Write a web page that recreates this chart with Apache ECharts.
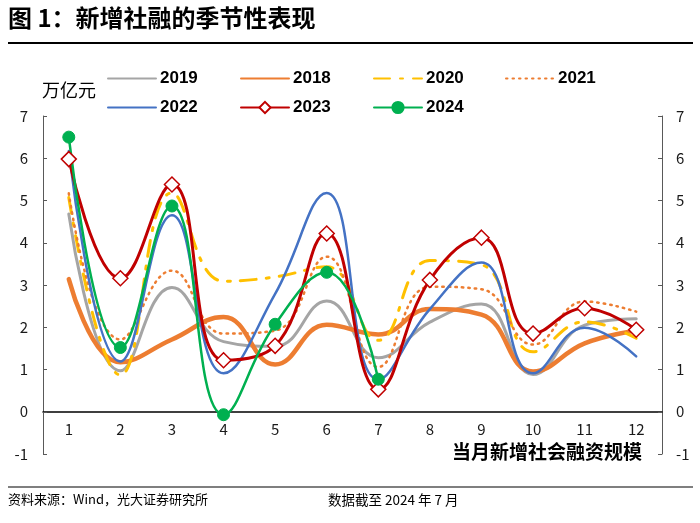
<!DOCTYPE html>
<html>
<head>
<meta charset="utf-8">
<script src="https://cdn.jsdelivr.net/npm/echarts@6/dist/echarts.min.js"></script>
<style>
html,body{margin:0;padding:0;background:#fff;}
#c{width:700px;height:523px;}
</style>
</head>
<body>
<div id="c"></div>
<script>
var months = ['1','2','3','4','5','6','7','8','9','10','11','12'];
var yTicks = [-1, 7, 1];
var s2019 = [4.68, 0.97, 2.94, 1.66, 1.55, 2.62, 1.28, 2.12, 2.55, 0.88, 2.05, 2.20];
var s2018 = [3.14, 1.17, 1.71, 2.24, 1.12, 2.06, 1.83, 2.43, 2.30, 0.95, 1.62, 1.92];
var s2020 = [5.07, 0.87, 5.18, 3.09, 3.19, 3.43, 1.69, 3.58, 3.48, 1.42, 2.13, 1.74];
var s2021 = [5.17, 1.71, 3.34, 1.85, 1.92, 3.67, 1.06, 2.96, 2.90, 1.59, 2.61, 2.37];
var s2022 = [6.17, 1.19, 4.65, 0.91, 2.79, 5.18, 0.76, 2.43, 3.53, 0.91, 1.99, 1.31];
var s2023 = [5.98, 3.16, 5.38, 1.22, 1.56, 4.22, 0.53, 3.12, 4.12, 1.85, 2.45, 1.94];
var s2024 = [6.50, 1.52, 4.87, -0.07, 2.07, 3.30, 0.77];

var cjk = '"Noto Sans CJK SC", sans-serif';
var lat = '"Liberation Sans", Arial, sans-serif';

function line(name, data, color, width, type, extra) {
  var s = {
    name: name, type: 'line', data: data, smooth: 0.45,
    symbol: 'none',
    lineStyle: {color: color, width: width, type: type || 'solid', cap: 'round'},
    itemStyle: {color: color}
  };
  if (extra) for (var k in extra) s[k] = extra[k];
  return s;
}

function leg(name, left, top, noSym) {
  var l = {
    data: [name], left: left, top: top, itemWidth: 48, itemHeight: 14, itemGap: 0,
    padding: 0,
    textStyle: {fontFamily: lat, fontWeight: 'bold', fontSize: 17, color: '#000', padding: [0,0,0,-1]}
  };
  if (noSym) l.itemStyle = {opacity: 0};
  return l;
}

var chart = echarts.init(document.getElementById('c'), null, {renderer: 'canvas'});
chart.setOption({
  animation: false,
  backgroundColor: '#fff',
  grid: {left: 43, right: 38, top: 116, bottom: 69, containLabel: false},
  legend: [
    leg('2019', 107, 70, true), leg('2018', 240, 70, true), leg('2020', 373, 70, true), leg('2021', 505, 70, true),
    leg('2022', 107, 99, true), leg('2023', 240, 99), leg('2024', 373, 99)
  ],
  xAxis: {
    type: 'category', data: months, boundaryGap: true,
    axisLine: {onZero: true, lineStyle: {color: '#000', width: 1.5}},
    axisTick: {inside: true, length: 5, lineStyle: {color: '#000'}},
    axisLabel: {fontFamily: cjk, fontSize: 15, color: '#1a1a1a', margin: -32}
  },
  yAxis: [
    {type: 'value', min: yTicks[0], max: yTicks[1], interval: yTicks[2], position: 'left',
     axisLine: {show: true, lineStyle: {color: '#595959', width: 1}},
     axisTick: {show: true, inside: true, length: 4, lineStyle: {color: '#595959'}},
     splitLine: {show: false},
     axisLabel: {fontFamily: cjk, fontSize: 15, color: '#1a1a1a', margin: 15}},
    {type: 'value', min: yTicks[0], max: yTicks[1], interval: yTicks[2], position: 'right',
     axisLine: {show: true, lineStyle: {color: '#595959', width: 1}},
     axisTick: {show: true, inside: true, length: 4, lineStyle: {color: '#595959'}},
     splitLine: {show: false},
     axisLabel: {fontFamily: cjk, fontSize: 15, color: '#1a1a1a', margin: 14}}
  ],
  series: [
    line('2019', s2019, '#A5A5A5', 3),
    line('2018', s2018, '#ED7D31', 4.5),
    line('2020', s2020, '#FFC000', 3, [16, 10, 3, 10]),
    line('2021', s2021, '#ED7D31', 2.5, [1.5, 5]),
    line('2022', s2022, '#4472C4', 2.5),
    line('2023', s2023, '#C00000', 3, 'solid', {
      symbol: 'diamond', symbolSize: 15, showSymbol: true,
      itemStyle: {color: '#fff', borderColor: '#C00000', borderWidth: 1.5}
    }),
    line('2024', s2024, '#00B050', 2.5, 'solid', {
      symbol: 'circle', symbolSize: 12, showSymbol: true,
      itemStyle: {color: '#00B050', borderColor: '#00B050', borderWidth: 1}
    })
  ],
  graphic: [
    {type: 'text', left: 8, top: 6, style: {text: '图 1：新增社融的季节性表现', fontFamily: cjk, fontWeight: 'bold', fontSize: 24, fill: '#000'}},
    {type: 'line', shape: {x1: 8, y1: 43, x2: 693, y2: 43}, style: {stroke: '#000', lineWidth: 2}},
    {type: 'text', left: 42, top: 81, style: {text: '万亿元', fontFamily: cjk, fontSize: 18, fill: '#000'}},
    {type: 'text', right: 58, top: 442, style: {text: '当月新增社会融资规模', fontFamily: cjk, fontWeight: 'bold', fontSize: 19, fill: '#000'}},
    {type: 'line', shape: {x1: 8, y1: 487, x2: 693, y2: 487}, style: {stroke: '#000', lineWidth: 1.2}},
    {type: 'text', left: 8, top: 493, style: {text: '资料来源：Wind，光大证券研究所', fontFamily: cjk, fontSize: 13, fill: '#000'}},
    {type: 'text', left: 328, top: 493, style: {text: '数据截至 2024 年 7 月', fontFamily: cjk, fontSize: 13.5, fill: '#000'}}
  ]
});
</script>
</body>
</html>
